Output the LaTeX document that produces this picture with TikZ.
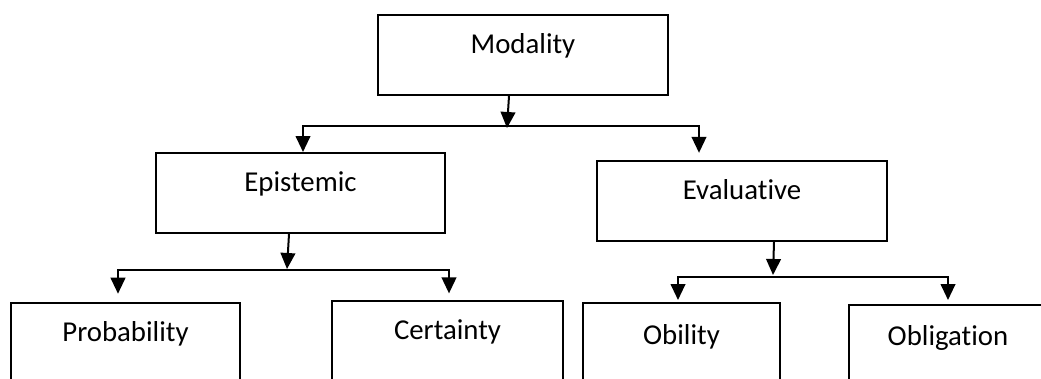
\documentclass[tikz,border=0pt]{standalone}
\usepackage{fontspec}
\setmainfont[Ligatures={NoCommon,NoContextual}]{Carlito}
\usetikzlibrary{arrows.meta,calc}
\begin{document}
\begin{tikzpicture}[x=0.75pt,y=-0.75pt,
  box/.style={draw, line width=1.5pt, anchor=north, inner sep=0pt,
    font=\fontsize{21.6pt}{26pt}\selectfont},
  tip/.tip={Triangle[length=12pt,width=11pt]},
  arr/.style={line width=1.5pt, -tip},
  twoarr/.style={line width=1.5pt, tip-tip}]
\useasboundingbox (0,0) rectangle (1041,378);
\clip (0,0) rectangle (1041,378);

% boxes
\node[box, minimum width=217.5pt, text height=29pt, text depth=31pt] (mod) at (523,14) {Modality};
\node[box, minimum width=216.75pt, text height=28.5pt, text depth=31.5pt] (epi) at (300.5,152) {Epistemic};
\node[box, minimum width=217.5pt, text height=29.25pt, text depth=31.1pt] (eva) at (742,159.5) {Evaluative};
\node[box, minimum width=171.75pt, text height=28.7pt, text depth=61.3pt] (prob) at (125.5,302) {Probability};
\node[box, minimum width=173.25pt, text height=29.25pt, text depth=60.75pt] (cert) at (447.5,299.5) {Certainty};
\node[box, minimum width=147.75pt, text height=31pt, text depth=59pt] (obi) at (681.5,302) {Obility};
\node[box, minimum width=148.5pt, text height=30.2pt, text depth=59.8pt] (obl) at (948,304) {Obligation};

% junction coordinates
\coordinate (mt) at (507,128);
\coordinate (b1) at (303,126);
\coordinate (b2) at (699,126);
\coordinate (et) at (287,269);
\coordinate (c1) at (118,270);
\coordinate (c2) at (449,270);
\coordinate (vt) at (773,275);
\coordinate (d1) at (678,277);
\coordinate (d2) at (948,277);

% connectors
\draw[arr] ($(mod.south)+(-14,0)$) -- (mt);
\draw[twoarr, shorten >=5pt] (b1 |- epi.north) -- (b1) -- (b2) -- (b2 |- eva.north);

\draw[arr] ($(epi.south)+(-11.5,0)$) -- (et);
\draw[twoarr, shorten <=6.2pt, shorten >=4.6pt] (c1 |- prob.north) -- (c1) -- (c2) -- (c2 |- cert.north);

\draw[arr] ($(eva.south)+(32,0)$) -- (vt);
\draw[twoarr, shorten <=1.5pt, shorten >=3pt] (d1 |- obi.north) -- (d1) -- (d2) -- (d2 |- obl.north);
\end{tikzpicture}
\end{document}
